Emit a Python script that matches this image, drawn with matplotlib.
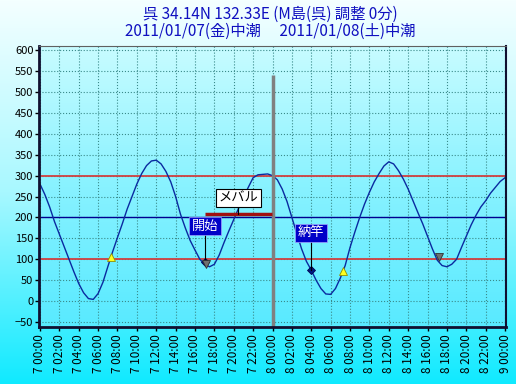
import numpy as np
import matplotlib
matplotlib.use('Agg')
import matplotlib.pyplot as plt
from matplotlib.colors import LinearSegmentedColormap

plt.rcParams['font.family'] = ['Noto Sans CJK JP', 'DejaVu Sans']

# tide level, every 30 min from 7 00:00 to 9 00:00 (cm)
hours = [i * 0.5 for i in range(97)]
tide = [280, 255, 225, 190, 160, 130, 100, 70, 42, 20,
        6, 4, 18, 45, 82, 118, 152, 185, 220, 250,
        280, 305, 324, 335, 337, 328, 310, 285, 250, 208,
        175, 145, 122, 100, 88, 82, 88, 110, 140, 168,
        195, 222, 248, 272, 295, 302, 303, 304, 300, 290,
        268, 238, 200, 162, 125, 95, 74, 50, 30, 17,
        16, 30, 55, 85, 128, 165, 200, 232, 260, 285,
        305, 323, 333, 328, 312, 292, 268, 240, 212, 185,
        155, 125, 98, 85, 82, 88, 100, 128, 155, 182,
        205, 225, 240, 258, 272, 286, 295]

# markers (hour, level)
low_up = [(7.3, 105), (31.3, 73)]       # yellow triangles
high_down = [(17.1, 89), (41.2, 105)]   # gray triangles
fish_pts = [(17.0, 94), (28.0, 74)]     # start / finish
fish_labels = ['開始', '納竿']
fish_label_y = [179, 163]
catch_name = 'メバル'
catch_span = (17.0, 23.9)
catch_level = 209
catch_label_y = 246

ref_red = [300, 100]
ref_blue = [200]
now_hour = 24
now_top = 540

tick_hours = list(range(0, 49, 2))
tick_labels = ['7 %02d:00' % h for h in range(0, 24, 2)] + \
              ['8 %02d:00' % h for h in range(0, 24, 2)] + ['9 00:00']
title = '呉 34.14N 132.33E (M島(呉) 調整 0分)\n2011/01/07(金)中潮　 2011/01/08(土)中潮'

fig = plt.figure(figsize=(5.16, 3.84), dpi=100)

# figure background gradient
bg = fig.add_axes([0, 0, 1, 1], zorder=-10)
cm_bg = LinearSegmentedColormap.from_list('bg', ['#f4ffff', '#a8f8ff', '#10eaff'])
bg.imshow(np.linspace(0, 1, 256).reshape(-1, 1), aspect='auto', cmap=cm_bg,
          extent=(0, 1, 0, 1), origin='upper')
bg.axis('off')

ax = fig.add_axes([39 / 516, 57 / 384, 467 / 516, 281 / 384])
ax.patch.set_alpha(0)
cm_ax = LinearSegmentedColormap.from_list('ax', ['#c8fcff', '#88f2ff', '#58eaff'])
ax.imshow(np.linspace(0, 1, 256).reshape(-1, 1), aspect='auto', cmap=cm_ax,
          extent=(0, 1, 0, 1), origin='upper', transform=ax.transAxes, zorder=0)

ax.set_xlim(-0.1, 48.1)
ax.set_ylim(-62, 610)

ax.set_xticks(tick_hours)
ax.set_xticklabels(tick_labels, rotation=90, fontsize=8.5)
ax.set_yticks(range(-50, 601, 50))
ax.tick_params(axis='y', labelsize=8, length=3, width=1, direction='out', pad=1)
ax.tick_params(axis='x', length=3, width=1, direction='out', pad=2)
ax.grid(True, color='#3a8a8a', linestyle=':', linewidth=0.8, zorder=1)

for v in ref_red:
    ax.axhline(v, color='#d04040', lw=1.3, zorder=2)
for v in ref_blue:
    ax.axhline(v, color='#000090', lw=1.0, zorder=2)

ax.plot(hours, tide, color='#0a2aa0', lw=1.0, zorder=3)

ax.vlines(now_hour, -62, now_top, color='#808080', lw=2.5, zorder=4)

ax.plot([p[0] for p in low_up], [p[1] for p in low_up], linestyle='none', marker='^',
        ms=6, mfc='#ffff20', mec='#909000', mew=0.6, zorder=6)
ax.plot([p[0] for p in fish_pts], [p[1] for p in fish_pts], linestyle='none', marker='D',
        ms=4.5, mfc='#001a80', mec='#000050', mew=0.6, zorder=5)
ax.plot([p[0] for p in high_down], [p[1] for p in high_down], linestyle='none', marker='v',
        ms=6, mfc='#707070', mec='#303030', mew=0.6, zorder=6)

for (hx, hy), lab, ly in zip(fish_pts, fish_labels, fish_label_y):
    ax.plot([hx, hx], [hy, ly], color='#000000', lw=0.8, zorder=5)
    ax.text(hx, ly, lab, color='white', fontsize=9.5, ha='center', va='center', zorder=7,
            bbox=dict(boxstyle='square,pad=0.2', fc='#0000c8', ec='#a0a0ff', lw=0.5))

ax.plot(catch_span, [catch_level, catch_level], color='#a01010', lw=2.5, zorder=5,
        solid_capstyle='butt')
mid = (catch_span[0] + catch_span[1]) / 2
ax.plot([mid, mid], [catch_level, catch_label_y], color='#000000', lw=0.8, zorder=5)
ax.text(mid, catch_label_y, catch_name, color='black', fontsize=9.5, ha='center', va='center',
        zorder=7, bbox=dict(boxstyle='square,pad=0.2', fc='white', ec='black', lw=0.8))

for side in ['left', 'bottom']:
    ax.spines[side].set_linewidth(2)
    ax.spines[side].set_color('#101030')
ax.spines['right'].set_linewidth(1.5)
ax.spines['right'].set_color('#101030')
ax.spines['top'].set_linewidth(0.8)
ax.spines['top'].set_color('#606060')
for s in ax.spines.values():
    s.set_zorder(8)

fig.text(270 / 516, 1 - 23 / 384, title, ha='center', va='center', color='#1010c0',
         fontsize=11, linespacing=1.0)

fig.savefig('out.png', dpi=100)
